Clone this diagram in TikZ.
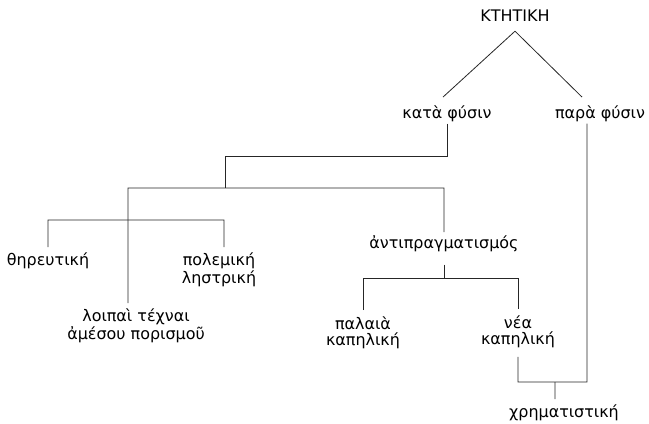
\documentclass[tikz,border=0pt]{standalone}
\usepackage{fontspec}
\setmainfont{DejaVu Sans}
\tikzset{
every node/.style={font=\fontsize{16}{15.5}\selectfont, inner sep=0pt, text=black}, % all the labels
term/.style={anchor=base}, % a one-line label, set on its baseline
pair/.style={anchor=north, align=center}, % a two-line label, hung from its top
branch/.style={draw=black!85, line width=0.8bp}, % the lines of the tree
}

\begin{document}
\begin{tikzpicture}[x=1bp, y=-1bp]
    \useasboundingbox (0,0) rectangle (649,423);

    \node[term] (KT) at (515,21) {ΚΤΗΤΙΚΗ};
    \node[term] (kata) at (447,118) {κατὰ φύσιν};
    \node[term] (para) at (600,118) {παρὰ φύσιν};
    \node[term] (thir) at (48,265) {θηρευτική};
    \node[pair] (polem) at (219,253) {πολεμική\\ληστρική};
    \node[pair] (loipai) at (136,309) {λοιπαὶ τέχναι\\ἀμέσου πορισμοῦ};
    \node[term] (anti) at (444,248) {ἀντιπραγματισμός};
    \node[pair] (palaia) at (363,317) {παλαιὰ\\καπηλική};
    \node[pair] (nea) at (518,316) {νέα\\καπηλική};
    \node[term] (chrim) at (564,417) {χρηματιστική};

    \coordinate (k1) at (225,156);
    \coordinate (k2) at (128,188);
    \coordinate (k3) at (48,220);
    \coordinate (k4) at (224,220);
    \coordinate (bar) at (444,278);
    \coordinate (rb) at (587,382);
    \coordinate (cj) at (555,382);

    \draw[branch] ([yshift=-10bp]KT.south) -- ([xshift=-4bp,yshift=8bp]kata.north)
                  ([yshift=-10bp]KT.south) -- ([xshift=-18bp,yshift=8bp]para.north);

    \draw[branch] ([yshift=-2bp]kata.south) |- (k1) -- (k1 |- k2);
    \draw[branch] ([xshift=-8bp,yshift=6bp]loipai.north) -- (k2) -| ([yshift=3bp]anti.north);
    \draw[branch] ([yshift=5bp]thir.north) -- (k3) -- (k4) -- ([xshift=5bp,yshift=6bp]polem.north);

    \draw[branch] ([yshift=-13bp]anti.south) -- (bar);
    \draw[branch] ([yshift=7bp]palaia.north) -- (palaia.north |- bar) -- (nea.north |- bar) -- ([yshift=7bp]nea.north);

    \draw[branch] ([yshift=-9bp]nea.south) |- (rb) -- ([xshift=-13bp,yshift=-2bp]para.south);
    \draw[branch] (cj) -- ([xshift=-9bp,yshift=5bp]chrim.north);
\end{tikzpicture}
\end{document}
